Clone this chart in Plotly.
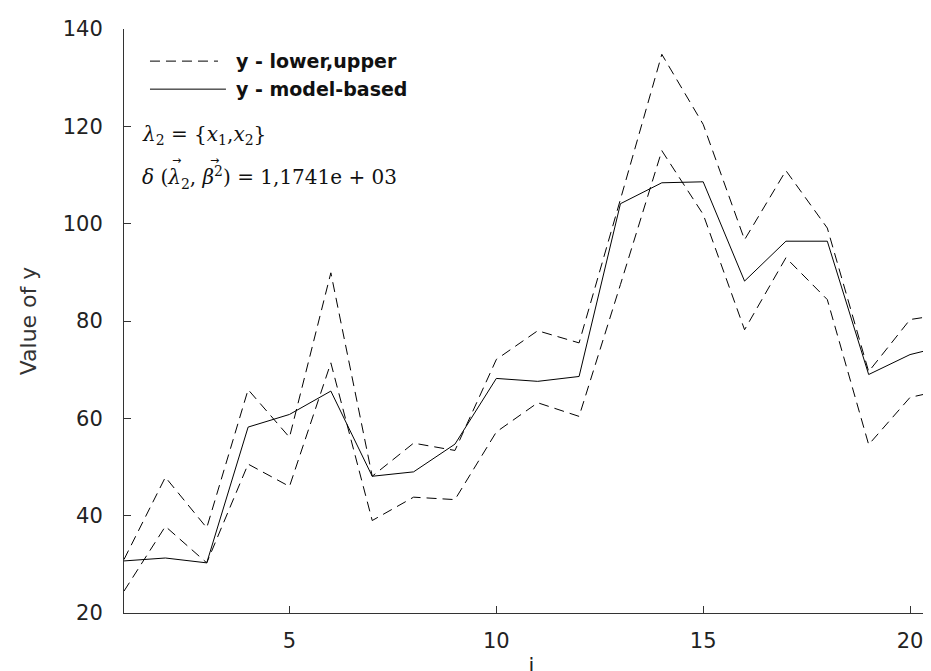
import plotly.graph_objects as go

i_vals = list(range(1, 22))
y_upper = [31.0, 47.9, 37.5, 65.9, 56.1, 89.9, 48.1, 54.9, 53.4, 72.1, 78.0, 75.5,
           105.0, 134.8, 120.4, 96.7, 110.9, 99.1, 69.6, 80.3, 81.6]
y_lower = [24.5, 37.8, 30.3, 50.6, 46.0, 71.4, 39.0, 43.8, 43.3, 57.2, 63.2, 60.4,
           87.5, 115.0, 101.9, 78.2, 93.0, 84.4, 54.6, 64.3, 66.2]
y_model = [30.7, 31.3, 30.3, 58.2, 60.8, 65.6, 48.1, 49.0, 54.7, 68.2, 67.6, 68.6,
           104.1, 108.4, 108.6, 88.2, 96.4, 96.4, 69.0, 73.1, 75.2]

x_ticks = [5, 10, 15, 20]
y_ticks = [20, 40, 60, 80, 100, 120, 140]
legend_labels = ["y - lower,upper", "y - model-based"]

dash = "10px,6px"
fig = go.Figure()
fig.add_trace(go.Scatter(x=i_vals, y=y_upper, mode="lines", name=legend_labels[0],
                         line=dict(color="black", width=1, dash=dash), showlegend=False))
fig.add_trace(go.Scatter(x=i_vals, y=y_lower, mode="lines", name=legend_labels[0],
                         line=dict(color="black", width=1, dash=dash), showlegend=False))
fig.add_trace(go.Scatter(x=i_vals, y=y_model, mode="lines", name=legend_labels[1],
                         line=dict(color="black", width=1), showlegend=False))

axis_common = dict(showgrid=False, zeroline=False, showline=True, linecolor="#333333",
                   linewidth=1, ticks="inside", ticklen=7, tickcolor="#333333",
                   tickfont=dict(family="DejaVu Sans", size=21, color="#222222"))

fig.update_xaxes(range=[1, 20.7], tickvals=x_ticks, ticklabelstandoff=9,
                 title=dict(text="i", font=dict(family="DejaVu Sans", size=21, color="#222222"),
                            standoff=6),
                 **axis_common)
fig.update_yaxes(range=[20, 140], tickvals=y_ticks, ticklabelstandoff=16,
                 title=dict(text="Value of y", font=dict(family="DejaVu Sans", size=22, color="#333333"),
                            standoff=20),
                 **axis_common)

# manual legend (sample lines + labels)
legend_rows = [(0.945, dict(color="black", width=1, dash=dash), 0.1153),
               (0.897, dict(color="black", width=1), 0.1251)]
for (yp, ln, x1), label in zip(legend_rows, legend_labels):
    fig.add_shape(type="line", xref="paper", yref="paper", x0=0.0319, x1=x1, y0=yp, y1=yp, line=ln)
    fig.add_annotation(xref="paper", yref="paper", x=0.1346, y=yp, xanchor="left", yanchor="middle",
                       text="<b>" + label + "</b>", showarrow=False,
                       font=dict(family="DejaVu Sans", size=19, color="#111111"))

serif = dict(family="DejaVu Serif", size=20, color="#111111")
fig.add_annotation(xref="paper", yref="paper", x=0.02, y=0.818, xanchor="left", yanchor="middle",
                   text="<i>λ</i><sub>2</sub> = {<i>x</i><sub>1</sub>,<i>x</i><sub>2</sub>}",
                   showarrow=False, font=serif)
fig.add_annotation(xref="paper", yref="paper", x=0.02, y=0.745, xanchor="left", yanchor="middle",
                   text="<i>δ</i> (<i>λ</i><sub>2</sub>, <i>β</i><sup>2</sup>) = 1,1741e + 03",
                   showarrow=False, font=serif)
# vector arrows over λ and β
for xp in (0.0647, 0.1115):
    fig.add_annotation(xref="paper", yref="paper", x=xp, y=0.774, xanchor="center", yanchor="middle",
                       text="→", showarrow=False,
                       font=dict(family="DejaVu Sans", size=11, color="#111111"))

fig.update_layout(
    width=931, height=671,
    margin=dict(l=116, r=0, t=21, b=66),
    paper_bgcolor="white", plot_bgcolor="white",
    showlegend=False,
)

fig.write_html("out.html")
